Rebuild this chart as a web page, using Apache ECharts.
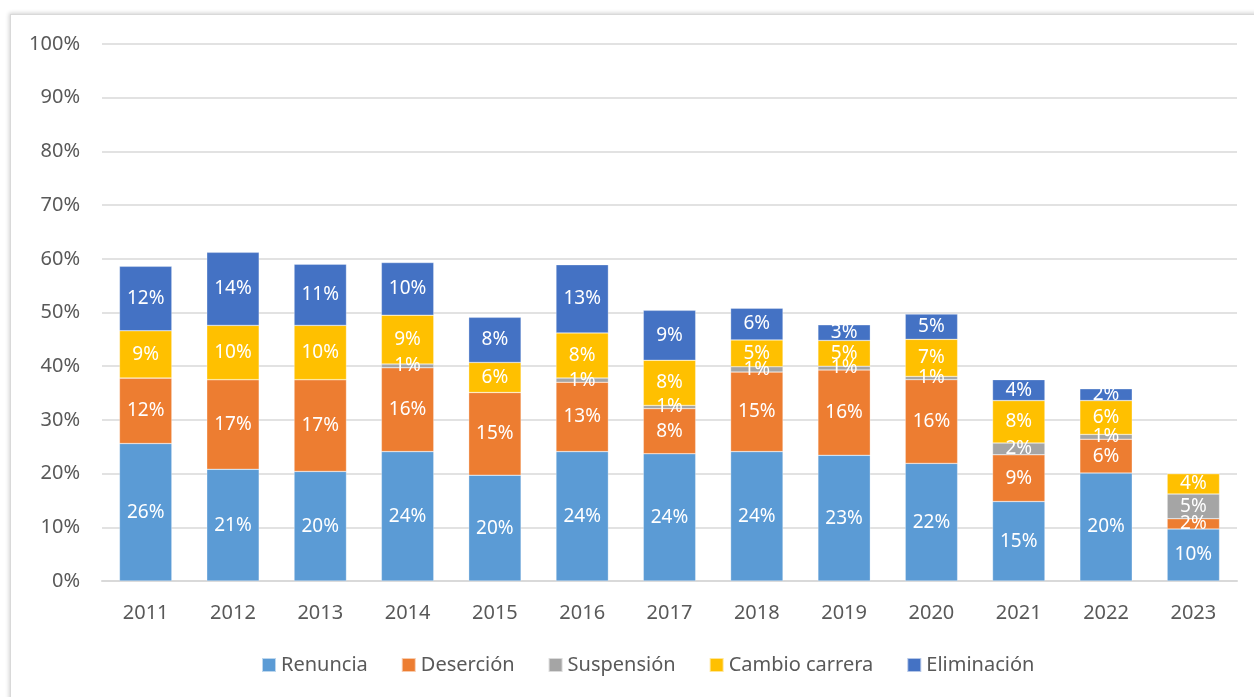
<!DOCTYPE html>
<html>
<head>
<meta charset="utf-8">
<script src="https://cdn.jsdelivr.net/npm/echarts@6/dist/echarts.min.js"></script>
<style>
  html, body { margin: 0; padding: 0; background: #fff; overflow: hidden; }
  #frame { position: absolute; left: 10px; top: 14px; width: 1300px; height: 720px;
           border: 1px solid #d9d9d9; box-shadow: -1px -1px 4px rgba(0,0,0,0.18); }
  #chart { position: absolute; left: 0; top: 0; width: 1254px; height: 697px; }
</style>
</head>
<body>
<div id="frame"></div>
<div id="chart"></div>
<script>
var years = ['2011','2012','2013','2014','2015','2016','2017','2018','2019','2020','2021','2022','2023'];
var seriesNames = ['Renuncia','Deserción','Suspensión','Cambio carrera','Eliminación'];
var colors = ['#5B9BD5','#ED7D31','#A5A5A5','#FFC000','#4472C4'];

// percentages
var renuncia    = [25.6, 20.8, 20.4, 24.1, 19.7, 24.1, 23.7, 24.1, 23.4, 21.9, 14.8, 20.1, 9.7];
var desercion   = [12.2, 16.7, 17.1, 15.6, 15.4, 12.9, 8.4, 14.8, 15.9, 15.6, 8.7, 6.3, 1.9];
var suspension  = [0, 0, 0, 0.7, 0, 0.8, 0.6, 1.0, 0.7, 0.6, 2.2, 0.9, 4.6];
var cambio      = [8.8, 10.1, 10.1, 9.1, 5.6, 8.4, 8.4, 5.0, 4.8, 6.9, 7.9, 6.3, 3.8];
var eliminacion = [12.0, 13.6, 11.4, 9.8, 8.4, 12.7, 9.3, 5.9, 2.9, 4.7, 3.9, 2.2, 0];

var yTicks = [0, 10, 20, 30, 40, 50, 60, 70, 80, 90, 100];

var allData = [renuncia, desercion, suspension, cambio, eliminacion];
var font = "'Noto Sans', sans-serif";

var series = seriesNames.map(function(name, i) {
  return {
    name: name,
    type: 'bar',
    stack: 'total',
    barWidth: '60%',
    data: allData[i],
    itemStyle: { color: colors[i], borderColor: 'rgba(255,255,255,0.6)', borderWidth: 0.5 },
    label: {
      show: true,
      position: 'inside',
      color: '#fff',
      fontFamily: font,
      fontSize: 19,
      formatter: function(p) {
        return p.value > 0 ? Math.round(p.value) + '%' : '';
      }
    }
  };
});

var chart = echarts.init(document.getElementById('chart'));
chart.setOption({
  animation: false,
  textStyle: { fontFamily: font },
  grid: { left: 102, right: 17, top: 44, bottom: 116 },
  legend: {
    bottom: 17,
    left: 256,
    itemWidth: 14,
    itemHeight: 14,
    itemGap: 33,
    icon: 'rect',
    textStyle: { color: '#595959', fontSize: 20, fontFamily: font },
    data: seriesNames
  },
  xAxis: {
    type: 'category',
    data: years,
    axisLine: { lineStyle: { color: '#d9d9d9', width: 2 } },
    axisTick: { show: false },
    axisLabel: { color: '#595959', fontSize: 20, margin: 22, fontFamily: font }
  },
  yAxis: {
    type: 'value',
    min: yTicks[0],
    max: yTicks[yTicks.length - 1],
    interval: 10,
    axisLine: { show: false },
    axisTick: { show: false },
    axisLabel: { color: '#595959', fontSize: 20, margin: 22, fontFamily: font, formatter: '{value}%' },
    splitLine: { lineStyle: { color: '#d9d9d9', width: 1.5 } }
  },
  series: series
});
</script>
</body>
</html>
